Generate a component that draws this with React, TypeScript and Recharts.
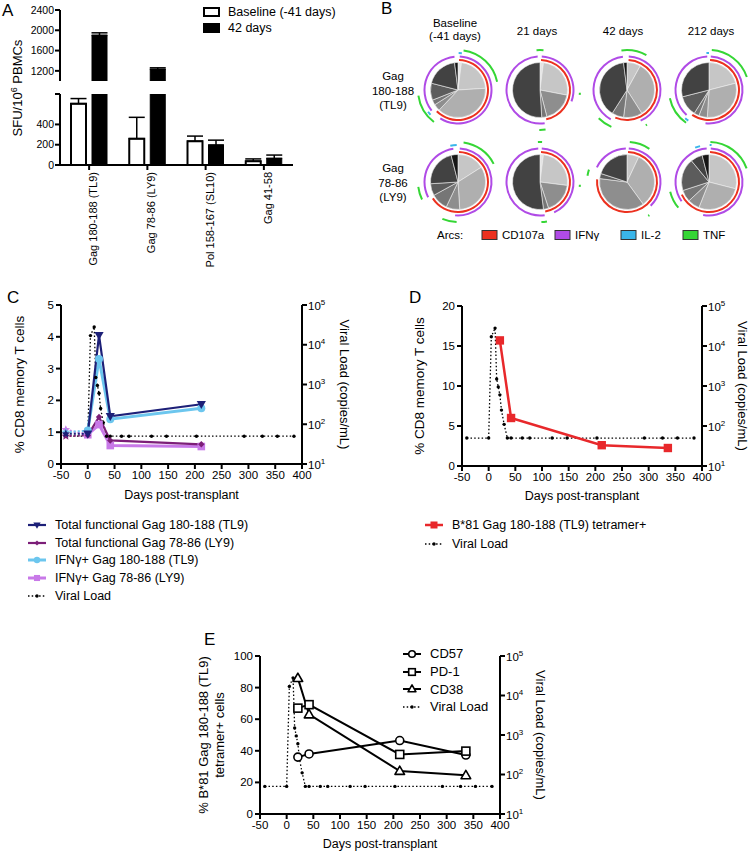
import React from 'react';
import {
  BarChart,
  Bar,
  ErrorBar,
  XAxis,
  YAxis,
  Legend,
  Label,
  LineChart,
  Line,
  PieChart,
  Pie,
  Cell,
} from 'recharts';

const FONT = '"Liberation Sans", Arial, Helvetica, sans-serif';

// ---------- A: ELISpot ----------
const epitopes = ['Gag 180-188 (TL9)', 'Gag 78-86 (LY9)', 'Pol 158-167 (SL10)', 'Gag 41-58'];
const baselineSfu = [605, 260, 235, 38];
const baselineSd = [50, 210, 50, 22];
const day42Sfu = [1900, 1230, 197, 65];
const day42Sd = [50, 30, 48, 33];
const upperTicks = [1000, 1200, 1600, 2000, 2400];
const lowerTicks = [0, 200, 400, 600, 700];
const barSeriesNames = ['Baseline (-41 days)', '42 days'];

// ---------- B: polyfunctionality pies ----------
const pieHeaders = [['Baseline', '(-41 days)'], ['21 days'], ['42 days'], ['212 days']];
const pieRowLabels = [['Gag', '180-188', '(TL9)'], ['Gag', '78-86', '(LY9)']];
// slice sizes (%), clockwise from 12 o'clock, light -> dark categories
const slicesTL9 = [
  [2, 22, 38, 4, 3, 10, 19, 2],
  [2, 26, 0, 18, 3, 0, 51, 0],
  [0, 8, 33, 11, 7, 0, 39, 2],
  [0, 21, 30, 5, 3, 12, 29, 0],
];
const slicesLY9 = [
  [0, 16, 33, 8, 10, 7, 22, 4],
  [2, 25, 0, 18, 3, 0, 52, 0],
  [0, 7, 33, 37, 0, 3, 20, 0],
  [0, 29, 27, 7, 7, 19, 7, 4],
];
const arcFunctions = ['CD107a', 'IFNγ', 'IL-2', 'TNF'];
// arcs in degrees clockwise from 12 o'clock: [CD107a, IFNγ, IL-2, TNF]
const arcsTL9 = [
  [[[2, 225]], [[3, 212], [232, 354]], [[1, 6], [228, 234]], [[8, 78], [217, 262]]],
  [[[2, 168]], [[3, 110], [172, 356]], [], [[0, 5], [94, 97], [172, 181], [355, 360]]],
  [[[3, 203]], [[3, 156], [209, 353]], [], [[0, 29], [150, 152], [203, 225], [352, 360]]],
  [[[2, 214]], [[3, 186], [222, 357]], [[214, 220], [356, 360]], [[4, 71], [215, 258]]],
];
const arcsLY9 = [
  [[[2, 237]], [[3, 185], [243, 352]], [[348, 358]], [[8, 63], [182, 203], [244, 263]]],
  [[[2, 170]], [[3, 155], [172, 357]], [], [[0, 3], [94, 97], [170, 178], [357, 360]]],
  [[[2, 275]], [[3, 135], [296, 358]], [], [[4, 34], [146, 148], [279, 288]]],
  [[[2, 245]], [[3, 190], [235, 356]], [[1, 4], [338, 346]], [[2, 70], [230, 256]]],
];

// ---------- C/D/E: time courses ----------
const vlDays = [-41, 0, 5, 12, 15, 18, 21, 24, 29, 35, 42, 63, 77, 119, 147, 203, 292, 326, 354, 385];
const vlCopies = [50, 50, 17000, 28000, 1500, 950, 600, 250, 110, 50, 50, 50, 50, 50, 50, 50, 50, 50, 50, 50];

const cDays = [-41, 0, 21, 42, 212];
const totalTL9 = [0.95, 0.95, 4.05, 1.5, 1.88];
const totalLY9 = [0.88, 0.9, 1.48, 0.74, 0.62];
const ifnTL9 = [1.0, 1.05, 3.3, 1.41, 1.75];
const ifnLY9 = [1.08, 0.92, 1.24, 0.58, 0.55];

const dDays = [21, 42, 212, 336];
const tetramerPct = [15.7, 6.0, 2.6, 2.25];

const eDays = [21, 42, 212, 336];
const cd57 = [36, 38, 46.5, 37.3];
const pd1 = [67, 69.2, 37.7, 39.8];
const cd38 = [86, 63, 27.2, 24.5];

const dayTicks = [-50, 0, 50, 100, 150, 200, 250, 300, 350, 400];
const logTicks = [10, 100, 1000, 10000, 100000];

// ---------- styles ----------
const grays = ['#e4e4e4', '#c6c6c6', '#afafaf', '#8e8e8e', '#767676', '#5c5c5c', '#424242', '#151515'];
const arcRings = [
  { color: '#ec311f', inner: 29, outer: 31 },
  { color: '#b04be6', inner: 32.5, outer: 34.5 },
  { color: '#3ab6ea', inner: 36, outer: 38 },
  { color: '#35d635', inner: 39, outer: 41 },
];
const axisLine = { stroke: '#000', strokeWidth: 2 };
const tickFont = { fill: '#000', fontSize: 11.5 };

const cSeries = [
  { key: 'totTL9', name: 'Total functional Gag 180-188 (TL9)', values: totalTL9, color: '#1d2078', width: 2.2, shape: 'triDown', size: 4 },
  { key: 'totLY9', name: 'Total functional Gag 78-86 (LY9)', values: totalLY9, color: '#7c1e78', width: 2.2, shape: 'diamond', size: 3.2 },
  { key: 'ifnTL9', name: 'IFNγ+ Gag 180-188 (TL9)', values: ifnTL9, color: '#6cc6ee', width: 3, shape: 'circle', size: 4 },
  { key: 'ifnLY9', name: 'IFNγ+ Gag 78-86 (LY9)', values: ifnLY9, color: '#c879e8', width: 3, shape: 'square', size: 3.8 },
];
const eSeries = [
  { key: 'cd57', name: 'CD57', values: cd57, shape: 'circle' },
  { key: 'pd1', name: 'PD-1', values: pd1, shape: 'square' },
  { key: 'cd38', name: 'CD38', values: cd38, shape: 'triUp' },
];

// ---------- helpers ----------
const sfuRows = (lo: number, hi: number) =>
  epitopes.map((name, i) => {
    const shown = (v: number) => (v > lo ? v : null);
    const err = (v: number, sd: number) => (v > lo && v + sd <= hi ? [0, sd] : null);
    return {
      name,
      base: shown(baselineSfu[i]),
      baseErr: err(baselineSfu[i], baselineSd[i]),
      d42: shown(day42Sfu[i]),
      d42Err: err(day42Sfu[i], day42Sd[i]),
    };
  });

const timeRows = (series: Record<string, [number[], number[]]>) => {
  const all = Object.values(series).flatMap(([d]) => d);
  const days = Array.from(new Set(all)).sort((a, b) => a - b);
  return days.map((day) => {
    const row: any = { day };
    Object.entries(series).forEach(([k, [d, v]]) => {
      const i = d.indexOf(day);
      if (i >= 0) row[k] = v[i];
    });
    return row;
  });
};

const cTable: Record<string, [number[], number[]]> = { vl: [vlDays, vlCopies] };
cSeries.forEach((s) => {
  cTable[s.key] = [cDays.slice(1), s.values.slice(1)];
  cTable[s.key + 'Base'] = [cDays.slice(0, 2), s.values.slice(0, 2)];
});
const cRows = timeRows(cTable);
const dRows = timeRows({ vl: [vlDays, vlCopies], tet: [dDays, tetramerPct] });
const eTable: Record<string, [number[], number[]]> = { vl: [vlDays, vlCopies] };
eSeries.forEach((s) => (eTable[s.key] = [eDays, s.values]));
const eRows = timeRows(eTable);

const arcSegments = (arcs: number[][]) => {
  const sorted = [...arcs].sort((a, b) => a[0] - b[0]);
  const segs: { value: number; on: boolean }[] = [];
  let cur = 0;
  sorted.forEach(([s, e]) => {
    const start = Math.max(s, cur);
    if (start > cur) segs.push({ value: start - cur, on: false });
    if (e > start) segs.push({ value: e - start, on: true });
    cur = Math.max(cur, e);
  });
  if (cur < 360) segs.push({ value: 360 - cur, on: false });
  return segs;
};

const Marker = ({ shape, x, y, color, size = 4, hollow = false }: any) => {
  const fill = hollow ? '#fff' : color;
  const sw = hollow ? 1.6 : 0;
  const s = size;
  if (shape === 'circle') return <circle cx={x} cy={y} r={s} fill={fill} stroke={color} strokeWidth={sw} />;
  if (shape === 'square')
    return <rect x={x - s} y={y - s} width={2 * s} height={2 * s} fill={fill} stroke={color} strokeWidth={sw} />;
  if (shape === 'dot') return <circle cx={x} cy={y} r={s} fill={color} />;
  let d = '';
  if (shape === 'triDown') d = `M${x - s * 1.15},${y - s * 0.8}L${x + s * 1.15},${y - s * 0.8}L${x},${y + s * 1.2}Z`;
  if (shape === 'triUp') d = `M${x - s * 1.2},${y + s * 0.85}L${x + s * 1.2},${y + s * 0.85}L${x},${y - s * 1.25}Z`;
  if (shape === 'diamond') d = `M${x},${y - s}L${x + s},${y}L${x},${y + s}L${x - s},${y}Z`;
  if (shape === 'star') {
    const pts = [];
    for (let i = 0; i < 10; i++) {
      const r = i % 2 ? s * 0.45 : s;
      const a = ((-90 + i * 36) * Math.PI) / 180;
      pts.push(`${x + r * Math.cos(a)},${y + r * Math.sin(a)}`);
    }
    d = `M${pts.join('L')}Z`;
  }
  return <path d={d} fill={fill} stroke={color} strokeWidth={sw} strokeLinejoin="round" />;
};

const dotFor = (shape: string, color: string, size: number, hollow = false, onlyBefore?: number) => (p: any) => {
  const k = `d-${p.index}`;
  if (p.cx == null || p.cy == null || p.value == null || (onlyBefore != null && p.payload.day >= onlyBefore))
    return <g key={k} />;
  return (
    <g key={k}>
      <Marker shape={shape} x={p.cx} y={p.cy} color={color} size={size} hollow={hollow} />
    </g>
  );
};

const LogTick = ({ x, y, payload }: any) => (
  <text x={x} y={y} dy={4.5} fontSize={11.5} fill="#000" textAnchor="start">
    10
    <tspan dy={-5} fontSize={8}>
      {Math.round(Math.log10(payload.value))}
    </tspan>
  </text>
);

const EpitopeTick = ({ x, y, payload }: any) => (
  <text x={x} y={y} transform={`rotate(-90 ${x} ${y})`} textAnchor="end" dy={8} fontSize={11} fill="#000">
    {payload.value}
  </text>
);

const dayAxis = (labelOffset: number) => (
  <XAxis
    dataKey="day"
    type="number"
    domain={[-50, 400]}
    ticks={dayTicks}
    interval={0}
    allowDataOverflow
    height={40}
    tickSize={5}
    tickMargin={2}
    axisLine={axisLine}
    tickLine={axisLine}
    tick={tickFont}
    label={{ value: 'Days post-transplant', position: 'insideBottom', offset: labelOffset, fill: '#000', fontSize: 12.5 }}
  />
);

const vlAxis = (width: number, labelOffset: number) => (
  <YAxis
    yAxisId="vl"
    orientation="right"
    scale="log"
    domain={[10, 100000]}
    ticks={logTicks}
    allowDataOverflow
    width={width}
    tickSize={5}
    tickMargin={1}
    axisLine={axisLine}
    tickLine={axisLine}
    tick={<LogTick />}
  >
    <Label
      value="Viral Load (copies/mL)"
      angle={90}
      position="insideRight"
      offset={labelOffset}
      fill="#000"
      fontSize={13}
      style={{ textAnchor: 'middle' }}
    />
  </YAxis>
);

const vlLine = (
  <Line
    yAxisId="vl"
    dataKey="vl"
    type="linear"
    stroke="#000"
    strokeWidth={1.3}
    strokeDasharray="1.5 2.2"
    dot={dotFor('dot', '#000', 1.7)}
    connectNulls
    isAnimationActive={false}
  />
);

const LegendRow = ({ icon, text, h }: any) => (
  <div style={{ display: 'flex', alignItems: 'center', height: h, whiteSpace: 'nowrap' }}>
    <svg width={18} height={12} style={{ flex: 'none' }}>
      {icon}
    </svg>
    <span style={{ marginLeft: 9 }}>{text}</span>
  </div>
);

const vlIcon = (
  <g>
    <line x1={0} y1={6} x2={18} y2={6} stroke="#000" strokeWidth={1.3} strokeDasharray="1.5 2.2" />
    <circle cx={9} cy={6} r={1.7} fill="#000" />
  </g>
);

const LegendA = () => (
  <div style={{ fontFamily: FONT, fontSize: 12.5, color: '#000' }}>
    {barSeriesNames.map((n, i) => (
      <div key={n} style={{ display: 'flex', alignItems: 'center', height: 15.5, whiteSpace: 'nowrap' }}>
        <span
          style={{
            display: 'inline-block',
            width: 13,
            height: 6,
            border: '2px solid #000',
            background: i === 0 ? '#fff' : '#000',
          }}
        />
        <span style={{ marginLeft: 8 }}>{n}</span>
      </div>
    ))}
  </div>
);

const LegendC = () => (
  <div style={{ fontFamily: FONT, fontSize: 12.5, color: '#000' }}>
    {cSeries.map((s) => (
      <LegendRow
        key={s.key}
        h={17.7}
        text={s.name}
        icon={
          <g>
            <line x1={0} y1={6} x2={18} y2={6} stroke={s.color} strokeWidth={s.width} />
            <Marker shape={s.shape} x={9} y={6} color={s.color} size={s.size * 0.8} />
          </g>
        }
      />
    ))}
    <LegendRow h={17.7} text="Viral Load" icon={vlIcon} />
  </div>
);

const LegendD = () => (
  <div style={{ fontFamily: FONT, fontSize: 12.5, color: '#000' }}>
    <LegendRow
      h={19}
      text="B*81 Gag 180-188 (TL9) tetramer+"
      icon={
        <g>
          <line x1={0} y1={6} x2={18} y2={6} stroke="#e8282b" strokeWidth={2.5} />
          <Marker shape="square" x={9} y={6} color="#e8282b" size={3.5} />
        </g>
      }
    />
    <LegendRow h={19} text="Viral Load" icon={vlIcon} />
  </div>
);

const LegendE = () => (
  <div style={{ fontFamily: FONT, fontSize: 13, color: '#000' }}>
    {eSeries.map((s) => (
      <LegendRow
        key={s.key}
        h={17.7}
        text={s.name}
        icon={
          <g>
            <line x1={0} y1={6} x2={18} y2={6} stroke="#000" strokeWidth={2} />
            <Marker shape={s.shape} x={9} y={6} color="#000" size={3.3} hollow />
          </g>
        }
      />
    ))}
    <LegendRow h={17.7} text="Viral Load" icon={vlIcon} />
  </div>
);

const SpicePie = ({ cx, cy, slices, arcs }: any) => (
  <div style={{ position: 'absolute', left: cx - 48, top: cy - 48 }}>
    <PieChart width={96} height={96} margin={{ top: 0, right: 0, bottom: 0, left: 0 }}>
      <Pie
        data={slices.map((v: number, i: number) => ({ value: v, c: i })).filter((d: any) => d.value > 0)}
        dataKey="value"
        cx={48}
        cy={48}
        innerRadius={0}
        outerRadius={27.5}
        startAngle={90}
        endAngle={-270}
        stroke="#eeeeee"
        strokeWidth={0.6}
        isAnimationActive={false}
      >
        {slices
          .map((v: number, i: number) => ({ v, i }))
          .filter((d: any) => d.v > 0)
          .map((d: any) => (
            <Cell key={d.i} fill={grays[d.i]} />
          ))}
      </Pie>
      {arcRings.map((ring, r) => {
        const segs = arcSegments(arcs[r]);
        return (
          <Pie
            key={r}
            data={segs}
            dataKey="value"
            cx={48}
            cy={48}
            innerRadius={ring.inner}
            outerRadius={ring.outer}
            startAngle={90}
            endAngle={-270}
            stroke="none"
            isAnimationActive={false}
          >
            {segs.map((s, i) => (
              <Cell key={i} fill={s.on ? ring.color : 'transparent'} />
            ))}
          </Pie>
        );
      })}
    </PieChart>
  </div>
);

const pieCols = [458, 540, 627, 709];
const pieRowsY = [90, 182];
const headerX = [455, 537, 623, 711];

export default function App() {
  const upper = sfuRows(1000, 2400);
  const lower = sfuRows(0, 700);
  return (
    <div
      style={{
        position: 'absolute',
        left: 0,
        top: 0,
        width: 750,
        height: 854,
        overflow: 'hidden',
        background: '#fff',
        fontFamily: FONT,
      }}
    >
      {/* A: upper segment of broken axis */}
      <div style={{ position: 'absolute', left: 0, top: 0 }}>
        <BarChart width={360} height={90} data={upper} margin={{ top: 10, right: 67, left: 0, bottom: 9 }} barSize={15} barGap={6}>
          <XAxis dataKey="name" hide />
          <YAxis
            domain={[1000, 2400]}
            ticks={upperTicks}
            allowDataOverflow
            width={60}
            tickSize={5}
            tickMargin={1}
            axisLine={axisLine}
            tickLine={axisLine}
            tick={{ fill: '#000', fontSize: 10.5 }}
            tickFormatter={(v: number) => (v === 1000 ? '' : String(v))}
          />
          <Bar dataKey="base" fill="#fff" stroke="#000" strokeWidth={2} isAnimationActive={false}>
            <ErrorBar dataKey="baseErr" width={8} stroke="#000" strokeWidth={1.5} />
          </Bar>
          <Bar dataKey="d42" fill="#000" stroke="#000" strokeWidth={1} isAnimationActive={false}>
            <ErrorBar dataKey="d42Err" width={8} stroke="#000" strokeWidth={1.5} />
          </Bar>
          <Legend
            layout="vertical"
            align="center"
            verticalAlign="middle"
            content={() => <LegendA />}
            wrapperStyle={{ left: 203, top: 4.5, width: 150 }}
          />
        </BarChart>
      </div>

      {/* A: lower segment */}
      <div style={{ position: 'absolute', left: 0, top: 84 }}>
        <BarChart width={300} height={196} data={lower} margin={{ top: 10, right: 7, left: 0, bottom: 0 }} barSize={15} barGap={6}>
          <XAxis
            dataKey="name"
            height={115}
            interval={0}
            tickSize={5}
            tickMargin={2}
            axisLine={axisLine}
            tickLine={axisLine}
            tick={<EpitopeTick />}
          />
          <YAxis
            domain={[0, 700]}
            ticks={lowerTicks}
            allowDataOverflow
            width={60}
            tickSize={5}
            tickMargin={1}
            axisLine={axisLine}
            tickLine={axisLine}
            tick={{ fill: '#000', fontSize: 10.5 }}
            tickFormatter={(v: number) => (v === 700 ? '' : String(v))}
          />
          <Bar dataKey="base" fill="#fff" stroke="#000" strokeWidth={2} isAnimationActive={false}>
            <ErrorBar dataKey="baseErr" width={8} stroke="#000" strokeWidth={1.5} />
          </Bar>
          <Bar dataKey="d42" fill="#000" stroke="#000" strokeWidth={1} isAnimationActive={false}>
            <ErrorBar dataKey="d42Err" width={8} stroke="#000" strokeWidth={1.5} />
          </Bar>
        </BarChart>
      </div>

      {/* B: pies */}
      {pieRowsY.map((cy, r) =>
        pieCols.map((cx, c) => (
          <SpicePie
            key={`${r}-${c}`}
            cx={cx}
            cy={cy}
            slices={r === 0 ? slicesTL9[c] : slicesLY9[c]}
            arcs={r === 0 ? arcsTL9[c] : arcsLY9[c]}
          />
        ))
      )}

      {/* C */}
      <div style={{ position: 'absolute', left: 0, top: 295 }}>
        <LineChart width={356} height={310} data={cRows} margin={{ top: 10, right: 0, left: 0, bottom: 101 }}>
          {dayAxis(5)}
          <YAxis
            yAxisId="pct"
            domain={[0, 5]}
            ticks={[0, 1, 2, 3, 4, 5]}
            allowDataOverflow
            width={61}
            tickSize={5}
            tickMargin={2}
            axisLine={axisLine}
            tickLine={axisLine}
            tick={tickFont}
          >
            <Label value="% CD8 memory T cells" angle={-90} position="insideLeft" offset={19} fill="#000" fontSize={13.5} style={{ textAnchor: 'middle' }} />
          </YAxis>
          {vlAxis(54, 11)}
          {vlLine}
          {[...cSeries].reverse().map((s) => (
            <Line
              key={s.key + 'Base'}
              yAxisId="pct"
              dataKey={s.key + 'Base'}
              type="linear"
              stroke={s.color}
              strokeWidth={2}
              strokeDasharray="2 2"
              dot={dotFor('star', s.color, 4.5, false, 0)}
              connectNulls
              isAnimationActive={false}
            />
          ))}
          {[...cSeries].reverse().map((s) => (
            <Line
              key={s.key}
              yAxisId="pct"
              dataKey={s.key}
              type="linear"
              stroke={s.color}
              strokeWidth={s.width}
              dot={dotFor(s.shape, s.color, s.size)}
              connectNulls
              isAnimationActive={false}
            />
          ))}
          <Legend
            layout="vertical"
            align="center"
            verticalAlign="middle"
            content={() => <LegendC />}
            wrapperStyle={{ left: 28, top: 221, width: 320 }}
          />
        </LineChart>
      </div>

      {/* D */}
      <div style={{ position: 'absolute', left: 380, top: 296 }}>
        <LineChart width={372} height={310} data={dRows} margin={{ top: 10, right: 0, left: 0, bottom: 100 }}>
          {dayAxis(6)}
          <YAxis
            yAxisId="pct"
            domain={[0, 20]}
            ticks={[0, 5, 10, 15, 20]}
            allowDataOverflow
            width={82}
            tickSize={5}
            tickMargin={2}
            axisLine={axisLine}
            tickLine={axisLine}
            tick={tickFont}
          >
            <Label value="% CD8 memory T cells" angle={-90} position="insideLeft" offset={39} fill="#000" fontSize={13.5} style={{ textAnchor: 'middle' }} />
          </YAxis>
          {vlAxis(50, 9)}
          {vlLine}
          <Line
            yAxisId="pct"
            dataKey="tet"
            type="linear"
            stroke="#e8282b"
            strokeWidth={2.5}
            dot={dotFor('square', '#e8282b', 4.2)}
            connectNulls
            isAnimationActive={false}
          />
          <Legend
            layout="vertical"
            align="center"
            verticalAlign="middle"
            content={() => <LegendD />}
            wrapperStyle={{ left: 45, top: 219.5, width: 300 }}
          />
        </LineChart>
      </div>

      {/* E */}
      <div style={{ position: 'absolute', left: 180, top: 646 }}>
        <LineChart width={370} height={208} data={eRows} margin={{ top: 10, right: 0, left: 0, bottom: 0 }}>
          {dayAxis(6)}
          <YAxis
            yAxisId="pct"
            domain={[0, 100]}
            ticks={[0, 20, 40, 60, 80, 100]}
            allowDataOverflow
            width={80}
            tickSize={5}
            tickMargin={2}
            axisLine={axisLine}
            tickLine={axisLine}
            tick={tickFont}
          >
            <Label value="% B*81 Gag 180-188 (TL9)" angle={-90} position="insideLeft" offset={23.5} fill="#000" fontSize={13} style={{ textAnchor: 'middle' }} />
            <Label value="tetramer+ cells" angle={-90} position="insideLeft" offset={39.5} fill="#000" fontSize={13} style={{ textAnchor: 'middle' }} />
          </YAxis>
          {vlAxis(50, 9)}
          {vlLine}
          {eSeries.map((s) => (
            <Line
              key={s.key}
              yAxisId="pct"
              dataKey={s.key}
              type="linear"
              stroke="#000"
              strokeWidth={2}
              dot={dotFor(s.shape, '#000', 4, true)}
              connectNulls
              isAnimationActive={false}
            />
          ))}
          <Legend
            layout="vertical"
            align="center"
            verticalAlign="middle"
            content={() => <LegendE />}
            wrapperStyle={{ left: 223, top: -1, width: 120 }}
          />
        </LineChart>
      </div>

      {/* loose text: panel letters, A axis title, B headers and legend */}
      <svg
        width={750}
        height={854}
        style={{ position: 'absolute', left: 0, top: 0, pointerEvents: 'none', fontFamily: FONT }}
      >
        <text x={2} y={16} fontSize={17}>A</text>
        <text x={381} y={14} fontSize={17}>B</text>
        <text x={7} y={303} fontSize={17}>C</text>
        <text x={409} y={303} fontSize={17}>D</text>
        <text x={204} y={645} fontSize={17}>E</text>

        <text transform="translate(21.5,88) rotate(-90)" textAnchor="middle" fontSize={13}>
          SFU/10
          <tspan dy={-5} fontSize={9}>6</tspan>
          <tspan dy={5}> PBMCs</tspan>
        </text>

        {pieHeaders.map((lines, c) =>
          lines.map((t, j) => (
            <text
              key={`${c}-${j}`}
              x={headerX[c]}
              y={lines.length > 1 ? 27 + j * 12.5 : 35}
              textAnchor="middle"
              fontSize={11.5}
            >
              {t}
            </text>
          ))
        )}
        {pieRowLabels.map((lines, r) =>
          lines.map((t, j) => (
            <text key={`${r}-${j}`} x={393} y={pieRowsY[r] - 10 + j * 14.5} textAnchor="middle" fontSize={11.5}>
              {t}
            </text>
          ))
        )}

        <text x={437} y={239} fontSize={11.5}>Arcs:</text>
        {arcFunctions.map((f, i) => {
          const x = [482, 555, 621, 683][i];
          return (
            <g key={f}>
              <rect x={x} y={230.5} width={15} height={9} fill={arcRings[i].color} stroke="#333" strokeWidth={1} />
              <text x={x + 20} y={239} fontSize={11.5}>{f}</text>
            </g>
          );
        })}
      </svg>
    </div>
  );
}
